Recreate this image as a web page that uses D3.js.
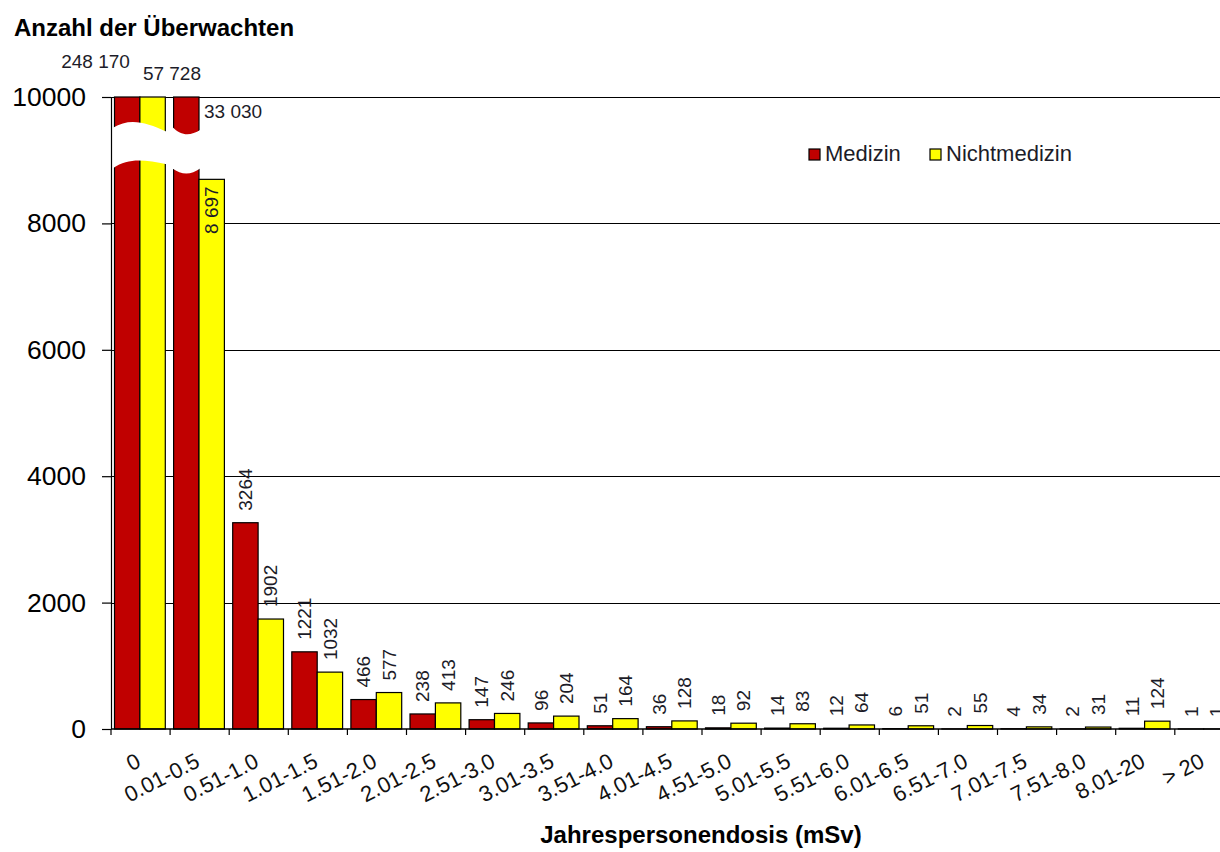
<!DOCTYPE html>
<html><head><meta charset="utf-8">
<script src="https://cdn.jsdelivr.net/npm/d3@7"></script>
<style>
body{margin:0;background:#fff}
text{font-family:"Liberation Sans",Arial,sans-serif}
</style>
</head><body>
<svg id="c" width="1220" height="852"></svg>
<script>
const categories = ["0","0.01-0.5","0.51-1.0","1.01-1.5","1.51-2.0","2.01-2.5","2.51-3.0","3.01-3.5","3.51-4.0","4.01-4.5","4.51-5.0","5.01-5.5","5.51-6.0","6.01-6.5","6.51-7.0","7.01-7.5","7.51-8.0","8.01-20","> 20"];
const seriesNames = ["Medizin","Nichtmedizin"];
// bar heights as drawn in the picture
const medizin = [248170,33030,3264,1221,466,238,147,96,51,36,18,14,12,6,2,4,2,11,1];
const nichtmedizin = [57728,8697,1740,900,577,413,246,204,164,128,92,83,64,51,55,34,31,124,1];
// data-label texts as printed
const medizinLabels = ["248 170","33 030","3264","1221","466","238","147","96","51","36","18","14","12","6","2","4","2","11","1"];
const nichtmedizinLabels = ["57 728","8 697","1902","1032","577","413","246","204","164","128","92","83","64","51","55","34","31","124","1"];
const yTicks = [0,2000,4000,6000,8000,10000];
const yTitle = "Anzahl der Überwachten";
const xTitle = "Jahrespersonendosis (mSv)";
const colors = {"Medizin":"#C00000","Nichtmedizin":"#FFFF00"};

const svg = d3.select("#c");
svg.append("rect").attr("width",1220).attr("height",852).attr("fill","#fff");

const left = 111, step = 59.1;
const x = d3.scaleBand().domain(categories).range([left, left + step*categories.length]).padding(0);
const xs = d3.scaleBand().domain(seriesNames).range([3.5, 3.5 + 50.8]).padding(0);
const y = d3.scaleLinear().domain([0,10000]).range([729,97]);
const yMax = y.domain()[1];

// gridlines
svg.append("g").selectAll("line").data(yTicks.filter(d=>d>0)).join("line")
  .attr("x1",left).attr("x2",1220)
  .attr("y1",d=>Math.round(y(d))+0.5).attr("y2",d=>Math.round(y(d))+0.5)
  .attr("stroke","#000").attr("stroke-width",1);

// bars
const rows = categories.map((c,i)=>({c,i,vals:[
  {s:"Medizin",v:medizin[i],lab:medizinLabels[i]},
  {s:"Nichtmedizin",v:nichtmedizin[i],lab:nichtmedizinLabels[i]}]}));

const gBars = svg.append("g");
rows.forEach(r=>{
  r.vals.forEach(d=>{
    const vx = x(r.c)+xs(d.s), w = xs.bandwidth();
    const top = y(Math.min(d.v,yMax));
    gBars.append("rect").attr("x",vx).attr("y",top).attr("width",w).attr("height",y(0)-top)
      .attr("fill",colors[d.s]).attr("stroke","#000").attr("stroke-width",1.2);
  });
});

// breaks for bars exceeding the axis
const tY = y(9530), bY = y(8920);
function breakPath(x0,x1,kind){
  const W = x1-x0;
  if(kind===0){
    return `M${x0},${tY+1} C${x0+W*0.3},${tY-9} ${x0+W*0.6},${tY-5} ${x1},${tY+5}`+
           ` L${x1},${bY-1} C${x0+W*0.6},${bY-5} ${x0+W*0.3},${bY-8} ${x0},${bY+3} Z`;
  }
  return `M${x0},${tY} C${x0+W*0.35},${tY+10} ${x0+W*0.65},${tY+9} ${x1},${tY+3}`+
         ` L${x1},${bY+3} C${x0+W*0.65},${bY+10} ${x0+W*0.35},${bY+10} ${x0},${bY+3} Z`;
}
rows.forEach(r=>{
  const broken = r.vals.filter(d=>d.v>yMax);
  if(!broken.length) return;
  const x0 = x(r.c)+xs(broken[0].s)-1.5;
  const last = broken[broken.length-1];
  const x1 = x(r.c)+xs(last.s)+xs.bandwidth()+1.5;
  svg.append("path").attr("d",breakPath(x0,x1,r.i)).attr("fill","#fff");
});

// data labels
const gLab = svg.append("g").attr("font-size",19).attr("fill","#1c1c28");
rows.forEach(r=>{
  r.vals.forEach((d,j)=>{
    const vx = x(r.c)+xs(d.s), w = xs.bandwidth(), cx = vx + w/2;
    if(d.v>yMax){
      const t = gLab.append("text").text(d.lab);
      if(r.i===0 && j===0) t.attr("x",vx+w-10).attr("y",y(yMax)-29).attr("text-anchor","end");
      else if(r.i===0) t.attr("x",vx+3).attr("y",y(yMax)-17);
      else t.attr("x",vx+w+5).attr("y",y(yMax)+21);
    } else if(d.v > 0.8*yMax){
      gLab.append("text").text(d.lab)
        .attr("transform",`translate(${cx},${y(d.v)+7}) rotate(-90)`)
        .attr("dy","0.35em").attr("text-anchor","end");
    } else {
      gLab.append("text").text(d.lab)
        .attr("transform",`translate(${cx},${y(d.v)-12}) rotate(-90)`)
        .attr("dy","0.35em").attr("text-anchor","start");
    }
  });
});

// y axis
const yAxis = d3.axisLeft(y).tickValues(yTicks).tickSize(9).tickSizeOuter(0).tickPadding(16).tickFormat(d3.format("d"));
const gy = svg.append("g").attr("transform",`translate(${left},0)`).call(yAxis);
gy.selectAll("text").attr("font-size",26.5).attr("fill","#000").attr("font-family","Liberation Sans, Arial, sans-serif");
gy.selectAll("line,path").attr("stroke","#000").attr("stroke-width",1.2);

// x axis
const bounds = d3.range(categories.length+1).map(i=>x.range()[0]+i*x.step());
svg.append("line").attr("x1",left).attr("x2",1220).attr("y1",y(0)).attr("y2",y(0)).attr("stroke","#000").attr("stroke-width",1.3);
svg.append("g").selectAll("line").data(bounds).join("line")
  .attr("x1",d=>d).attr("x2",d=>d).attr("y1",y(0)).attr("y2",y(0)+6).attr("stroke","#000").attr("stroke-width",1.2);
svg.append("g").attr("font-size",22).attr("fill","#111").selectAll("text").data(categories).join("text")
  .attr("transform",c=>`translate(${x(c)+x.bandwidth()/2+1.5},${y(0)+37}) rotate(-27)`)
  .attr("text-anchor","end").text(c=>c);

// titles
svg.append("text").attr("x",14).attr("y",36).attr("font-size",24).attr("font-weight","bold").attr("fill","#000").text(yTitle);
svg.append("text").attr("x",701).attr("y",843).attr("text-anchor","middle").attr("font-size",24).attr("font-weight","bold").attr("fill","#000").text(xTitle);

// legend
const lg = svg.append("g").attr("font-size",22).attr("fill","#1c1c28");
const legendX = [809, 930];
seriesNames.forEach((s,i)=>{
  lg.append("rect").attr("x",legendX[i]).attr("y",149).attr("width",11).attr("height",11)
    .attr("fill",colors[s]).attr("stroke","#000").attr("stroke-width",1.2);
  lg.append("text").attr("x",legendX[i]+16).attr("y",161).text(s);
});
</script>
</body></html>
